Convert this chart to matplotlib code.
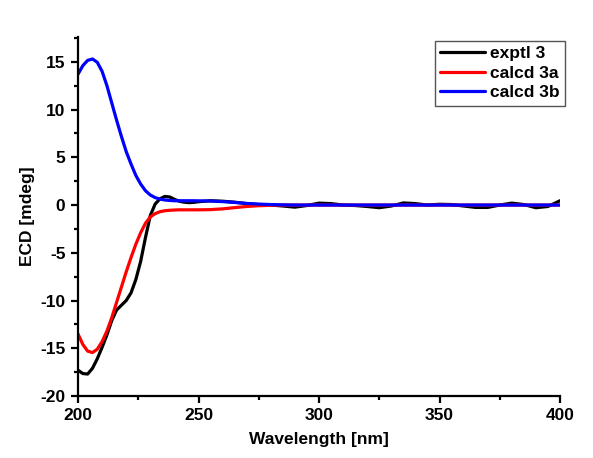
import matplotlib
matplotlib.use("Agg")
import matplotlib.pyplot as plt
from matplotlib.ticker import MultipleLocator

plt.rcParams['font.family'] = ['Liberation Sans', 'DejaVu Sans']
plt.rcParams['font.weight'] = 'bold'
plt.rcParams['axes.unicode_minus'] = False

wavelength = [200, 202, 204, 206, 208, 210, 212, 214, 216, 218, 220, 222, 224, 226, 228,
              230, 232, 234, 236, 238, 240, 242, 244, 246, 248, 250,
              255, 260, 265, 270, 275, 280, 285, 290, 295, 300, 305, 310, 315, 320, 325,
              330, 335, 340, 345, 350, 355, 360, 365, 370, 375, 380, 385, 390, 395, 400]

exptl_3 = [-17.3, -17.65, -17.7, -17.1, -16.1, -14.9, -13.6, -12.1, -11.0, -10.5, -10.0, -9.2,
           -7.8, -5.9, -3.4, -1.1, 0.1, 0.65, 0.9, 0.85, 0.6, 0.4, 0.3, 0.25, 0.28, 0.35,
           0.45, 0.4, 0.3, 0.15, 0.05, 0.0, -0.1, -0.22, -0.05, 0.2, 0.15, 0.0, -0.05, -0.15,
           -0.28, -0.1, 0.22, 0.15, 0.0, 0.08, 0.05, -0.1, -0.25, -0.25, 0.0, 0.2, 0.05,
           -0.28, -0.15, 0.45]

calcd_3a = [-13.5, -14.6, -15.3, -15.45, -15.1, -14.3, -13.2, -11.8, -10.2, -8.6, -7.0, -5.5,
            -4.1, -2.9, -1.9, -1.25, -0.9, -0.7, -0.6, -0.55, -0.52, -0.5, -0.5, -0.5, -0.5,
            -0.5, -0.48, -0.4, -0.27, -0.15, -0.07, -0.03, -0.01, 0.0, 0.0, 0.0, 0.0, 0.0,
            0.0, 0.0, 0.0, 0.0, 0.0, 0.0, 0.0, 0.0, 0.0, 0.0, 0.0, 0.0, 0.0, 0.0, 0.0, 0.0,
            0.0, 0.0]

calcd_3b = [13.7, 14.6, 15.15, 15.3, 14.95, 14.0, 12.5, 10.7, 8.9, 7.2, 5.6, 4.3, 3.1, 2.2,
            1.5, 1.05, 0.78, 0.62, 0.53, 0.48, 0.45, 0.45, 0.45, 0.45, 0.45, 0.44, 0.42,
            0.36, 0.27, 0.17, 0.1, 0.05, 0.02, 0.0, 0.0, 0.0, 0.0, 0.0, 0.0, 0.0, 0.0, 0.0,
            0.0, 0.0, 0.0, 0.0, 0.0, 0.0, 0.0, 0.0, 0.0, 0.0, 0.0, 0.0, 0.0, 0.0]

series_labels = ['exptl 3', 'calcd 3a', 'calcd 3b']
series_colors = ['#000000', '#ff0000', '#0000ff']

fig = plt.figure(figsize=(5.93, 4.58), dpi=100)
ax = fig.add_axes([78/593, 1-396/458, (560-78)/593, (396-37)/458])

for ys, lab, col in zip([exptl_3, calcd_3a, calcd_3b], series_labels, series_colors):
    ax.plot(wavelength, ys, color=col, lw=2.3, label=lab,
            solid_joinstyle='round', solid_capstyle='round')

ax.set_xlim(200, 400)
ax.set_ylim(-20, 17.6)
ax.xaxis.set_major_locator(MultipleLocator(50))
ax.xaxis.set_minor_locator(MultipleLocator(25))
ax.yaxis.set_major_locator(MultipleLocator(5))
ax.yaxis.set_minor_locator(MultipleLocator(2.5))

for s in ['top', 'right']:
    ax.spines[s].set_visible(False)
for s in ['left', 'bottom']:
    ax.spines[s].set_linewidth(1.6)

ax.tick_params(which='major', direction='out', length=5, width=1.6, labelsize=12.5, pad=4)
ax.tick_params(which='minor', direction='out', length=3, width=1.6)
for lbl in ax.get_xticklabels() + ax.get_yticklabels():
    lbl.set_fontweight('bold')

ax.set_xlabel('Wavelength [nm]', fontsize=12.5, fontweight='bold', labelpad=6)
ax.set_ylabel('ECD [mdeg]', fontsize=12.5, fontweight='bold', labelpad=4)

leg = ax.legend(loc='upper right', bbox_to_anchor=(565/593, 1-41/458),
                bbox_transform=fig.transFigure, borderaxespad=0, fancybox=False,
                frameon=True, edgecolor='#555555', framealpha=1,
                prop={'size': 12.5, 'weight': 'bold'}, handlelength=2.6,
                handletextpad=0.3, labelspacing=0.25, borderpad=0.3)
leg.get_frame().set_linewidth(1.0)

fig.savefig('out.png', dpi=100)
